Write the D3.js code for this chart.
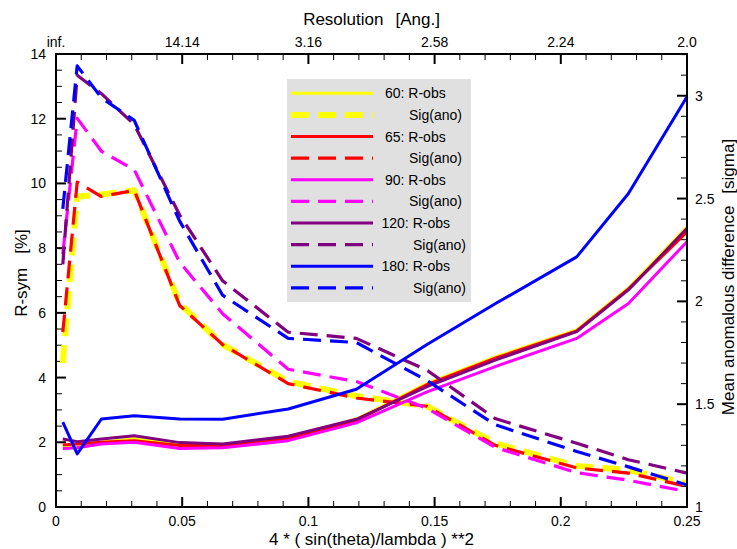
<!DOCTYPE html>
<html><head><meta charset="utf-8">
<script src="https://cdn.jsdelivr.net/npm/d3@7"></script>
<style>body{margin:0;background:#fff}svg{display:block;font-family:"Liberation Sans",Arial,Helvetica,sans-serif}</style>
</head><body><svg id="c" width="737" height="549"></svg>
<script>
// ---- data ----
const xBins = [0.0027, 0.0084, 0.018, 0.031, 0.049, 0.066, 0.092, 0.119, 0.147, 0.174, 0.2063, 0.2268, 0.25];
const seriesNames = ["60", "65", "90", "120", "180"];
const seriesColors = ["#ffff00", "#ff0000", "#ff00ff", "#800080", "#0000ff"];
// R-obs [%] (left axis)
const robs60  = [1.88, 1.85, 2.00, 2.12, 1.95, 1.90, 2.15, 2.72, 3.82, 4.64, 5.47, 6.77, 8.66];
const robs65  = [1.92, 1.95, 2.00, 2.05, 1.90, 1.90, 2.12, 2.67, 3.78, 4.60, 5.44, 6.74, 8.50];
const robs90  = [1.81, 1.83, 1.95, 2.00, 1.81, 1.83, 2.05, 2.60, 3.56, 4.34, 5.21, 6.29, 8.20];
const robs120 = [2.10, 2.02, 2.10, 2.20, 1.99, 1.95, 2.19, 2.71, 3.72, 4.54, 5.42, 6.71, 8.61];
const robs180 = [2.62, 1.64, 2.72, 2.82, 2.72, 2.71, 3.03, 3.64, 5.02, 6.28, 7.73, 9.69, 12.68];
// Sig(ano) [sigma] (right axis)
const sig60  = [1.70, 2.51, 2.52, 2.54, 1.99, 1.79, 1.61, 1.54, 1.49, 1.31, 1.20, 1.18, 1.115];
const sig65  = [1.85, 2.58, 2.51, 2.54, 1.98, 1.79, 1.60, 1.53, 1.49, 1.30, 1.19, 1.165, 1.10];
const sig90  = [2.23, 2.89, 2.73, 2.64, 2.19, 1.94, 1.67, 1.61, 1.48, 1.29, 1.167, 1.13, 1.075];
const sig120 = [2.18, 3.10, 3.01, 2.86, 2.42, 2.10, 1.85, 1.82, 1.665, 1.43, 1.31, 1.23, 1.165];
const sig180 = [2.45, 3.145, 2.99, 2.88, 2.39, 2.03, 1.82, 1.80, 1.615, 1.40, 1.27, 1.195, 1.107];
const robsData = [robs60, robs65, robs90, robs120, robs180];
const sigData = [sig60, sig65, sig90, sig120, sig180];
const xTicks = [0, 0.05, 0.1, 0.15, 0.2, 0.25];
const xTickLabels = ["0", "0.05", "0.1", "0.15", "0.2", "0.25"];
const topTickLabels = ["inf.", "14.14", "3.16", "2.58", "2.24", "2.0"];
const leftTicks = [0, 2, 4, 6, 8, 10, 12, 14];
const rightTicks = [1, 1.5, 2, 2.5, 3];
const rightTickLabels = ["1", "1.5", "2", "2.5", "3"];

// ---- layout ----
const L = 56, R = 687, T = 54, B = 507;
const svg = d3.select("#c");
const x = d3.scaleLinear().domain([0, 0.25]).range([L, R]);
const yL = d3.scaleLinear().domain([0, 14]).range([B, T]);
const yR = d3.scaleLinear().domain([1, 3.203]).range([B, T]);
const dash = "18,9";

// ticks (inward)
const gT = svg.append("g").attr("stroke", "#000");
const minorX = d3.range(0, 0.2501, 0.01);
minorX.forEach(v => {
  const major = Math.abs(v / 0.05 - Math.round(v / 0.05)) < 1e-6;
  const len = major ? 10 : 6;
  gT.append("line").attr("x1", x(v)).attr("x2", x(v)).attr("y1", B).attr("y2", B - len).attr("stroke-width", major ? 2 : 1);
  gT.append("line").attr("x1", x(v)).attr("x2", x(v)).attr("y1", T).attr("y2", T + len).attr("stroke-width", major ? 2 : 1);
});
d3.range(0, 14.01, 0.5).forEach(v => {
  const major = Math.abs(v / 2 - Math.round(v / 2)) < 1e-6;
  gT.append("line").attr("x1", L).attr("x2", L + (major ? 10 : 6)).attr("y1", yL(v)).attr("y2", yL(v)).attr("stroke-width", major ? 2 : 1);
});
d3.range(1, 3.201, 0.1).forEach(v => {
  const major = Math.abs(v / 0.5 - Math.round(v / 0.5)) < 1e-6;
  gT.append("line").attr("x1", R).attr("x2", R - (major ? 10 : 6)).attr("y1", yR(v)).attr("y2", yR(v)).attr("stroke-width", major ? 2 : 1);
});

// lines
const lineL = d3.line().x((d, i) => x(xBins[i])).y(d => yL(d));
const lineR = d3.line().x((d, i) => x(xBins[i])).y(d => yR(d));
const gL = svg.append("g").attr("fill", "none").attr("stroke-linejoin", "round");
seriesNames.forEach((n, k) => {
  gL.append("path").attr("d", lineL(robsData[k])).attr("stroke", seriesColors[k]).attr("stroke-width", 3);
  gL.append("path").attr("d", lineR(sigData[k])).attr("stroke", seriesColors[k])
    .attr("stroke-width", k === 0 ? 6 : 3.2).attr("stroke-dasharray", dash);
});

// frame
svg.append("rect").attr("x", L).attr("y", T).attr("width", R - L).attr("height", B - T)
  .attr("fill", "none").attr("stroke", "#000").attr("stroke-width", 2);

// tick labels
const fs = 14;
xTicks.forEach((v, i) => {
  svg.append("text").attr("x", x(v)).attr("y", 526).attr("text-anchor", "middle").attr("font-size", fs).text(xTickLabels[i]);
  svg.append("text").attr("x", x(v)).attr("y", 47).attr("text-anchor", "middle").attr("font-size", fs).text(topTickLabels[i]);
});
leftTicks.forEach(v => {
  svg.append("text").attr("x", 46).attr("y", yL(v) + 5).attr("text-anchor", "end").attr("font-size", fs).text(v);
});
rightTicks.forEach((v, i) => {
  svg.append("text").attr("x", 695).attr("y", yR(v) + 5).attr("text-anchor", "start").attr("font-size", fs).text(rightTickLabels[i]);
});

// axis titles
function title(sel, a, b, gap) {
  sel.append("tspan").text(a);
  sel.append("tspan").attr("dx", gap).text(b);
}
title(svg.append("text").attr("x", (L + R) / 2).attr("y", 25).attr("text-anchor", "middle").attr("font-size", 17), "Resolution", "[Ang.]", 12);
svg.append("text").attr("x", (L + R) / 2).attr("y", 545).attr("text-anchor", "middle").attr("font-size", 17).text("4 * ( sin(theta)/lambda ) **2");
title(svg.append("text").attr("transform", "translate(27,273) rotate(-90)").attr("text-anchor", "middle").attr("font-size", 17), "R-sym", "[%]", 14);
title(svg.append("text").attr("transform", "translate(734,277) rotate(-90)").attr("text-anchor", "middle").attr("font-size", 17), "Mean anomalous difference", "[sigma]", 12);

// legend
const lg = svg.append("g");
lg.append("rect").attr("x", 287).attr("y", 79).attr("width", 184).attr("height", 223).attr("fill", "#e0e0e0");
const rowH = 21.63, row0 = 93.3;
seriesNames.forEach((n, k) => {
  const ys = row0 + 2 * k * rowH, yd = ys + rowH;
  lg.append("line").attr("x1", 291).attr("x2", 373).attr("y1", ys).attr("y2", ys).attr("stroke", seriesColors[k]).attr("stroke-width", 3);
  lg.append("line").attr("x1", 291).attr("x2", 373).attr("y1", yd).attr("y2", yd).attr("stroke", seriesColors[k])
    .attr("stroke-width", k === 0 ? 6 : 3.2).attr("stroke-dasharray", dash);
  const extra = n.length - 2;
  lg.append("text").attr("x", 385 - extra * 3.5).attr("y", ys + 5).attr("font-size", fs).text(n + ": R-obs");
  lg.append("text").attr("x", 409 + extra * 4).attr("y", yd + 5).attr("font-size", fs).text("Sig(ano)");
});
</script></body></html>
